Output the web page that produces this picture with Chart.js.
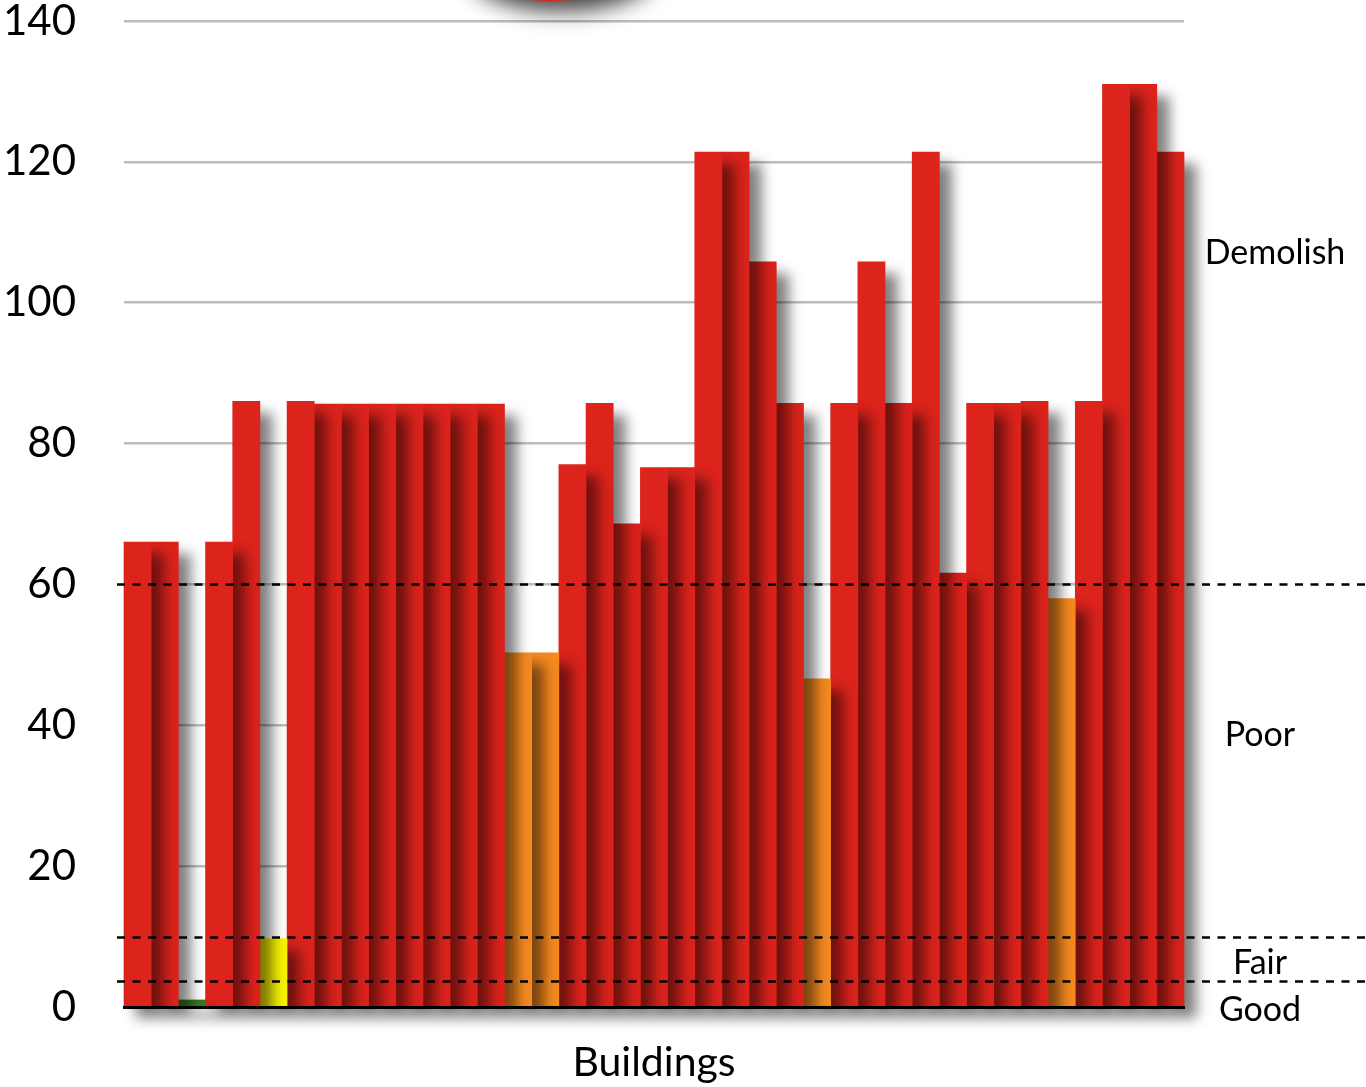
<!DOCTYPE html>
<html>
<head>
<meta charset="utf-8">
<script src="https://cdn.jsdelivr.net/npm/chart.js@4"></script>
<style>
  html, body { margin: 0; padding: 0; background: #fff; }
  #wrap { width: 1366px; height: 1087px; }
</style>
</head>
<body>
<div id="wrap"><canvas id="buildingsCanvas" width="1366" height="1087"></canvas></div>
<script>
// Condition score per building
const buildings = [
  'B1', 'B2', 'B3', 'B4', 'B5', 'B6', 'B7', 'B8', 'B9', 'B10',
  'B11', 'B12', 'B13', 'B14', 'B15', 'B16', 'B17', 'B18', 'B19', 'B20',
  'B21', 'B22', 'B23', 'B24', 'B25', 'B26', 'B27', 'B28', 'B29', 'B30',
  'B31', 'B32', 'B33', 'B34', 'B35', 'B36', 'B37', 'B38', 'B39',
];
const scores = [
  66, 66, 1, 66, 86, 9.7, 86, 85.6, 85.6, 85.6,
  85.6, 85.6, 85.6, 85.6, 50.3, 50.3, 77, 85.7, 68.6, 76.6,
  76.6, 121.4, 121.4, 105.8, 85.7, 46.6, 85.7, 105.8, 85.7, 121.4,
  61.6, 85.7, 85.7, 86, 58, 86, 131, 131, 121.4,
];
const yTicks = [0, 20, 40, 60, 80, 100, 120, 140];

// Band limits (Demolish / Poor / Fair / Good) and their labels
const bandLimits = [60, 10, 3.7];
const bandNames = ['Demolish', 'Poor', 'Fair', 'Good'];

const COLORS = {
  demolish: '#dc231c',
  poor: '#f68a1f',
  fair: '#f6f300',
  good: '#35781f',
};

function barColor(v) {
  if (v >= bandLimits[0]) return COLORS.demolish;
  if (v >= bandLimits[1]) return COLORS.poor;
  if (v >= bandLimits[2]) return COLORS.fair;
  return COLORS.good;
}

// Bars are drawn right-to-left so each drop shadow falls onto its right neighbour
const shadowBars = {
  id: 'shadowBars',
  beforeDatasetDraw(chart, args) {
    const ctx = chart.ctx;
    const bars = args.meta.data;
    ctx.save();
    ctx.shadowColor = 'rgba(0,0,0,0.5)';
    ctx.shadowBlur = 13;
    ctx.shadowOffsetX = 12;
    ctx.shadowOffsetY = 12;
    for (let i = bars.length - 1; i >= 0; i--) bars[i].draw(ctx);
    ctx.restore();
    return false;
  },
};

// Partly hidden red badge at the top edge of the slide
const topBadge = {
  id: 'topBadge',
  beforeDatasetsDraw(chart) {
    const ctx = chart.ctx;
    ctx.save();
    ctx.shadowColor = 'rgba(0,0,0,0.75)';
    ctx.shadowBlur = 22;
    ctx.shadowOffsetX = 12;
    ctx.shadowOffsetY = 10;
    ctx.fillStyle = COLORS.demolish;
    ctx.beginPath();
    ctx.ellipse(550, -40, 95, 41, 0, 0, Math.PI * 2);
    ctx.fill();
    ctx.restore();
  },
};

// Dashed band limits and band names on the right
const bandMarks = {
  id: 'bandMarks',
  afterDraw(chart) {
    const { ctx } = chart;
    const y = chart.scales.y;
    ctx.save();
    ctx.strokeStyle = '#000';
    ctx.lineWidth = 2.5;
    ctx.setLineDash([8, 7.5]);
    bandLimits.forEach((v) => {
      const py = Math.round(y.getPixelForValue(v)) + 0.5;
      ctx.beginPath();
      ctx.moveTo(117, py);
      ctx.lineTo(1366, py);
      ctx.stroke();
    });
    ctx.setLineDash([]);

    const labelPos = [[1275, 107], [1260, 38.6], [1260, 6.2], [1260, -0.5]];
    ctx.fillStyle = '#000';
    ctx.font = '34px Lato';
    ctx.textAlign = 'center';
    ctx.textBaseline = 'middle';
    bandNames.forEach((name, i) => {
      ctx.fillText(name, labelPos[i][0], y.getPixelForValue(labelPos[i][1]));
    });
    ctx.restore();
  },
};

new Chart(document.getElementById('buildingsCanvas'), {
  type: 'bar',
  data: {
    labels: buildings,
    datasets: [
      {
        data: scores,
        backgroundColor: scores.map(barColor),
        borderWidth: 0,
        barPercentage: 1,
        categoryPercentage: 1,
      },
    ],
  },
  options: {
    responsive: false,
    animation: false,
    events: [],
    layout: { padding: { top: 21, right: 182, left: 0, bottom: 0 } },
    plugins: {
      legend: { display: false },
      tooltip: { enabled: false },
    },
    scales: {
      x: {
        z: 1,
        grid: { display: false },
        ticks: { display: false },
        border: { display: true, color: '#000', width: 3 },
        title: {
          display: true,
          text: 'Buildings',
          color: '#000',
          font: { family: 'Lato', size: 41, lineHeight: 1 },
          padding: { top: 0, bottom: 4 },
        },
        afterFit: (scale) => { scale.height = 80; },
      },
      y: {
        min: 0,
        max: 140,
        afterBuildTicks: (scale) => { scale.ticks = yTicks.map((v) => ({ value: v })); },
        ticks: {
          color: '#000',
          padding: 0,
          font: { family: 'Lato', size: 42, lineHeight: 1 },
        },
        grid: {
          color: '#bcbcbc',
          lineWidth: 2.5,
          drawTicks: true,
          tickLength: 48,
          tickColor: 'rgba(0,0,0,0)',
        },
        border: { display: false },
        afterFit: (scale) => { scale.width = 124; },
      },
    },
  },
  plugins: [shadowBars, topBadge, bandMarks],
});
</script>
</body>
</html>
